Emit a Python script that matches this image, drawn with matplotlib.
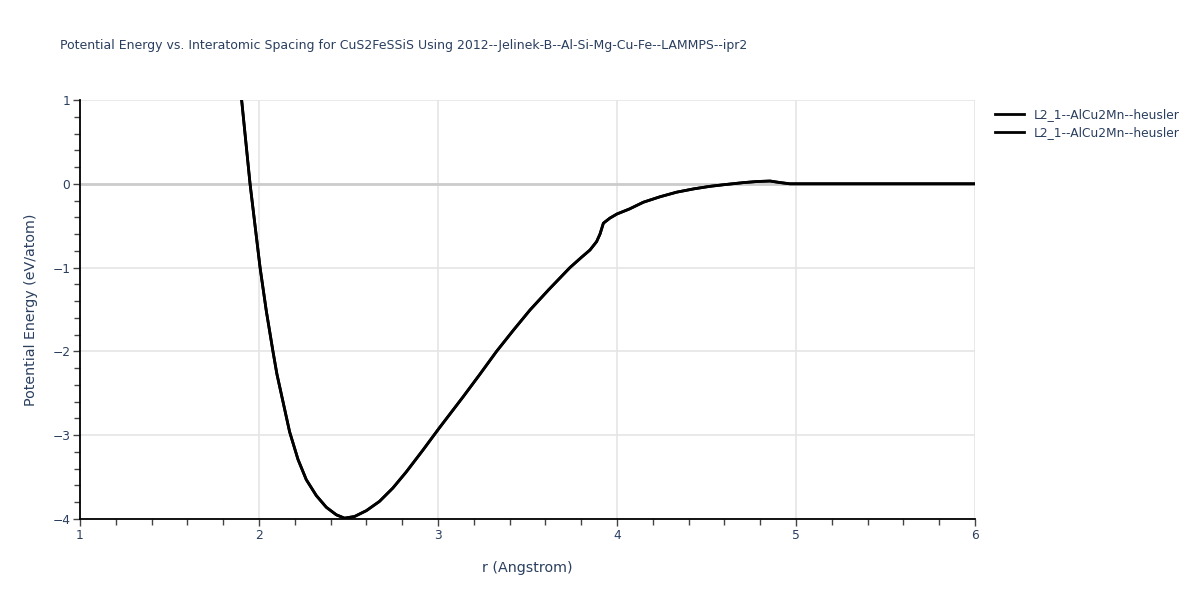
import numpy as np
import matplotlib
matplotlib.use('Agg')
import matplotlib.pyplot as plt
from matplotlib.ticker import MultipleLocator

# Values
r_values = [1.903, 1.95, 2.006, 2.041, 2.078, 2.1, 2.134, 2.171, 2.218, 2.264,
            2.32, 2.376, 2.432, 2.478, 2.534, 2.6, 2.673, 2.748, 2.822, 2.915,
            3.005, 3.141, 3.235, 3.327, 3.42, 3.514, 3.62, 3.737, 3.80, 3.849,
            3.886, 3.905, 3.924, 3.96, 4.0, 4.07, 4.147, 4.24, 4.333, 4.43,
            4.52, 4.6, 4.706, 4.78, 4.855, 4.91, 4.966, 5.0, 6.0]
energy_values = [1.0, 0.0, -1.0, -1.52, -2.0, -2.27, -2.6, -2.96, -3.29, -3.53,
                 -3.72, -3.86, -3.95, -3.99, -3.97, -3.90, -3.79, -3.63, -3.44, -3.18,
                 -2.92, -2.54, -2.27, -2.0, -1.75, -1.506, -1.26, -1.0, -0.88, -0.79,
                 -0.69, -0.60, -0.47, -0.41, -0.36, -0.30, -0.22, -0.155, -0.10, -0.06,
                 -0.03, -0.01, 0.014, 0.027, 0.033, 0.015, 0.0, 0.0, 0.0]
series_labels = ['L2_1--AlCu2Mn--heusler', 'L2_1--AlCu2Mn--heusler']

title_text = 'Potential Energy vs. Interatomic Spacing for CuS2FeSSiS Using 2012--Jelinek-B--Al-Si-Mg-Cu-Fe--LAMMPS--ipr2'
text_color = '#2a3f5f'

fig = plt.figure(figsize=(12, 6), dpi=100)
ax = fig.add_axes([80 / 1200, 1 - 519 / 600, 895 / 1200, 419 / 600])

for label in series_labels:
    ax.plot(r_values, energy_values, color='black', linewidth=2, label=label,
            solid_joinstyle='round')

ax.set_xlim(1, 6)
ax.set_ylim(-4, 1)

ax.xaxis.set_major_locator(MultipleLocator(1))
ax.yaxis.set_major_locator(MultipleLocator(1))
ax.xaxis.set_minor_locator(MultipleLocator(0.2))
ax.yaxis.set_minor_locator(MultipleLocator(0.2))

ax.grid(True, which='major', color='#e5e5e5', linewidth=1.2, zorder=0)
ax.axhline(0, color='#cccccc', linewidth=2, zorder=1)
ax.set_axisbelow(True)

for side in ['top', 'right']:
    ax.spines[side].set_visible(False)
for side in ['left', 'bottom']:
    ax.spines[side].set_color('black')
    ax.spines[side].set_linewidth(1.3)

ax.tick_params(which='major', direction='out', length=5, width=1, color='#444444',
               labelcolor=text_color, labelsize=8.8, pad=2)
ax.tick_params(which='minor', direction='out', length=4, width=1, color='#444444')

ax.set_xticklabels([f'{v:g}' for v in ax.get_xticks()])
ax.set_yticklabels([f'{v:g}'.replace('-', '\u2212') for v in ax.get_yticks()])

ax.set_xlabel('r (Angstrom)', color=text_color, fontsize=10.3, labelpad=14)
ax.set_ylabel('Potential Energy (eV/atom)', color=text_color, fontsize=10.3, labelpad=10)

fig.text(60 / 1200, 1 - 45 / 600, title_text, color=text_color, fontsize=9,
         ha='left', va='center')

fig.legend(loc='upper left', bbox_to_anchor=(990 / 1200, 1 - 103 / 600),
           frameon=False, fontsize=8.8, handlelength=2.4, labelspacing=0.45,
           labelcolor=text_color, borderaxespad=0)

fig.savefig('out.png', dpi=100)
